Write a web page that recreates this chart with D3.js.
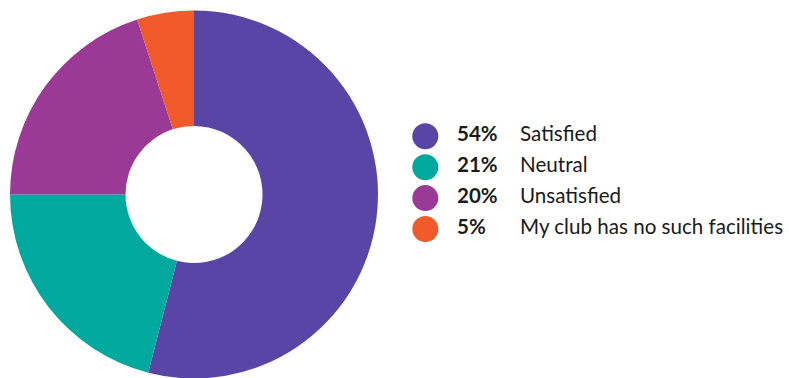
<!DOCTYPE html>
<html>
<head>
<meta charset="utf-8">
<script src="https://cdn.jsdelivr.net/npm/d3@7"></script>
<style>
  html, body { margin: 0; padding: 0; background: #ffffff; }
  svg { display: block; }
  text { font-family: Lato, "Open Sans", sans-serif; fill: #1a1a1a; }
</style>
</head>
<body>
<svg id="chart" width="789" height="378"></svg>
<script>
const categories = ["Satisfied", "Neutral", "Unsatisfied", "My club has no such facilities"];
const values = [54, 21, 20, 5];
const percentLabels = ["54%", "21%", "20%", "5%"];
const colors = ["#5945a5", "#00a89d", "#9a3a96", "#f15a2b"];

const svg = d3.select("#chart");

const cx = 194, cy = 194.5;
const outerR = 184, innerR = 68.5;

const data = categories.map((c, i) => ({ name: c, value: values[i], label: percentLabels[i], color: colors[i] }));

const pie = d3.pie().value(d => d.value).sort(null);
const arc = d3.arc().innerRadius(innerR).outerRadius(outerR);

svg.append("g")
  .attr("transform", `translate(${cx},${cy})`)
  .selectAll("path")
  .data(pie(data))
  .join("path")
  .attr("d", arc)
  .attr("fill", d => d.data.color);

// Legend: swatch, bold share, category name
const legendY = d3.scalePoint().domain(categories).range([136.3, 229]);
const legend = svg.append("g");
const rows = legend.selectAll("g").data(data).join("g")
  .attr("transform", d => `translate(0,${legendY(d.name)})`);

rows.append("circle").attr("cx", 425.3).attr("cy", 0).attr("r", 13).attr("fill", d => d.color);
rows.append("text").attr("x", 457).attr("y", 4.5)
  .style("font-size", "20.5px").style("font-weight", 700).text(d => d.label);
rows.append("text").attr("x", 520).attr("y", 4.5)
  .style("font-size", "20.6px").text(d => d.name);
</script>
</body>
</html>
